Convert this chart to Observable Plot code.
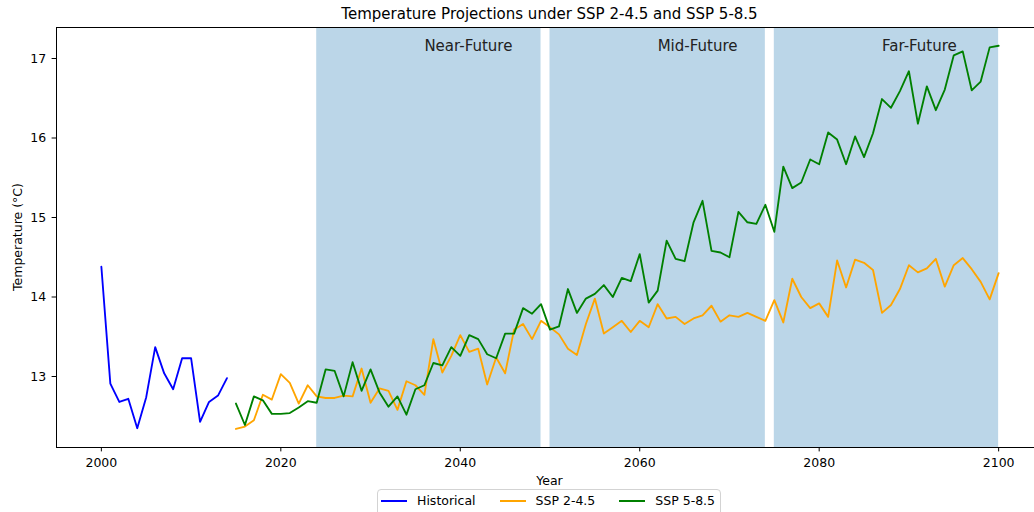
<!DOCTYPE html>
<html>
<head>
<meta charset="utf-8">
<script src="https://cdn.jsdelivr.net/npm/d3@7"></script>
<script src="https://cdn.jsdelivr.net/npm/@observablehq/plot@0.6"></script>
<style>
  body { margin: 0; background: #fff; font-family: "DejaVu Sans", sans-serif; }
  #wrap { position: relative; width: 1034px; height: 512px; overflow: hidden; background: #fff; }
  #wrap svg { position: absolute; left: 0; top: 0; }
  .ov { position: absolute; color: #000; white-space: nowrap; }
  #title { left: 0; width: 1099px; top: 6px; text-align: center; font-size: 15px; line-height: 16px; }
  #xlabel { left: 0; width: 1099px; top: 473px; text-align: center; font-size: 12.5px; line-height: 16px; }
  #ylabel { left: 18px; top: 237px; font-size: 12.5px; line-height: 16px; transform: translate(-50%, -50%) rotate(-90deg); }
  #legend { left: 377px; top: 489px; border: 1px solid #d3d3d3; border-radius: 4px; padding: 3px 5px 8px 3px; display: flex; align-items: center; font-size: 12.5px; line-height: 16px; background: rgba(255,255,255,0.8); }
  .item { display: flex; align-items: center; margin-right: 24px; }
  .item:last-child { margin-right: 0; }
  .sw { width: 26px; height: 2px; margin-right: 10px; }
</style>
</head>
<body>
<div id="wrap"></div>
<script>
// ---- data ----
const histYears = d3.range(2000, 2015);
const histValues = [14.38, 12.91, 12.68, 12.72, 12.35, 12.74, 13.37, 13.04, 12.84, 13.23, 13.23, 12.43, 12.68, 12.76, 12.98];

const sspYears = d3.range(2015, 2101);
const ssp245Values = [
  12.34, 12.37, 12.45, 12.77, 12.71, 13.03, 12.92, 12.66, 12.89, 12.75, // 2015-2024
  12.73, 12.73, 12.76, 12.75, 13.10, 12.67, 12.85, 12.82, 12.58, 12.94, // 2025-2034
  12.89, 12.77, 13.47, 13.05, 13.26, 13.52, 13.31, 13.35, 12.90, 13.24, // 2035-2044
  13.04, 13.59, 13.66, 13.47, 13.70, 13.62, 13.53, 13.35, 13.27, 13.66, // 2045-2054
  13.98, 13.54, 13.62, 13.70, 13.56, 13.70, 13.62, 13.91, 13.73, 13.75, // 2055-2064
  13.66, 13.73, 13.77, 13.89, 13.69, 13.77, 13.75, 13.80, 13.75, 13.70, // 2065-2074
  13.96, 13.68, 14.23, 14.00, 13.86, 13.92, 13.75, 14.46, 14.12, 14.47, // 2075-2084
  14.43, 14.34, 13.80, 13.90, 14.10, 14.40, 14.31, 14.36, 14.48, 14.13, // 2085-2094
  14.40, 14.49, 14.35, 14.19, 13.97, 14.30                              // 2095-2100
];
const ssp585Values = [
  12.66, 12.39, 12.75, 12.70, 12.53, 12.53, 12.54, 12.61, 12.69, 12.67, // 2015-2024
  13.09, 13.07, 12.75, 13.18, 12.82, 13.09, 12.80, 12.62, 12.75, 12.52, // 2025-2034
  12.84, 12.89, 13.17, 13.14, 13.37, 13.26, 13.52, 13.47, 13.28, 13.23, // 2035-2044
  13.54, 13.54, 13.86, 13.79, 13.91, 13.59, 13.63, 14.10, 13.80, 13.98, // 2045-2054
  14.04, 14.15, 14.00, 14.24, 14.20, 14.54, 13.93, 14.08, 14.71, 14.48, // 2055-2064
  14.45, 14.94, 15.21, 14.58, 14.56, 14.50, 15.07, 14.94, 14.92, 15.16, // 2065-2074
  14.82, 15.64, 15.37, 15.44, 15.73, 15.67, 16.07, 15.98, 15.67, 16.02, // 2075-2084
  15.76, 16.06, 16.49, 16.38, 16.59, 16.84, 16.18, 16.65, 16.35, 16.61, // 2085-2094
  17.04, 17.09, 16.60, 16.71, 17.14, 17.16                              // 2095-2100
];

const periodNames = ["Near-Future", "Mid-Future", "Far-Future"];
const periodStarts = [2024, 2050, 2075];
const periodEnds = [2049, 2074, 2100];
const periodLabelY = 17.15;

const seriesNames = ["Historical", "SSP 2-4.5", "SSP 5-8.5"];
const seriesColors = ["blue", "orange", "green"];

const xTicks = [2000, 2020, 2040, 2060, 2080, 2100];
const yTicks = [13, 14, 15, 16, 17];
const xDomain = [1995, 2105];
const yDomain = [12.107, 17.39];

const titleText = "Temperature Projections under SSP 2-4.5 and SSP 5-8.5";
const xLabelText = "Year";
const yLabelText = "Temperature (°C)";

// ---- tables ----
const hist = histYears.map((year, i) => ({year, value: histValues[i]}));
const s245 = sspYears.map((year, i) => ({year, value: ssp245Values[i]}));
const s585 = sspYears.map((year, i) => ({year, value: ssp585Values[i]}));
const periods = periodNames.map((name, i) => ({name, start: periodStarts[i], end: periodEnds[i]}));

const chart = Plot.plot({
  width: 1034,
  height: 512,
  marginTop: 27,
  marginBottom: 65,
  marginLeft: 56,
  marginRight: 0,
  x: {domain: xDomain, range: [56, 1043]},
  y: {domain: yDomain},
  style: {fontFamily: "DejaVu Sans", fontSize: "12.5px", color: "#000", background: "#fff", overflow: "hidden"},
  marks: [
    Plot.rect(periods, {x1: "start", x2: "end", fill: "#1f77b4", fillOpacity: 0.3}),
    Plot.line(hist, {x: "year", y: "value", stroke: seriesColors[0], strokeWidth: 1.85}),
    Plot.line(s245, {x: "year", y: "value", stroke: seriesColors[1], strokeWidth: 1.85}),
    Plot.line(s585, {x: "year", y: "value", stroke: seriesColors[2], strokeWidth: 1.85}),
    Plot.text(periods, {x: d => Math.floor((d.start + d.end) / 2), y: () => periodLabelY, text: "name", textAnchor: "start", fontSize: 15, fill: "#222"}),
    Plot.ruleY([yDomain[0]], {stroke: "#000", strokeWidth: 1}),
    Plot.ruleY([yDomain[1]], {stroke: "#000", strokeWidth: 1}),
    Plot.ruleX([xDomain[0]], {stroke: "#000", strokeWidth: 1}),
    Plot.axisX({ticks: xTicks, tickSize: 4.4, tickPadding: 6.5, tickFormat: d => String(d), label: null, fontSize: 12.5}),
    Plot.axisY({ticks: yTicks, tickSize: 4.4, tickPadding: 6, tickFormat: d => String(d), label: null, fontSize: 12.5})
  ]
});

const wrap = document.getElementById("wrap");
wrap.appendChild(chart);

function addDiv(id, text) {
  const d = document.createElement("div");
  d.className = "ov";
  d.id = id;
  d.textContent = text;
  wrap.appendChild(d);
  return d;
}
addDiv("title", titleText);
addDiv("xlabel", xLabelText);
addDiv("ylabel", yLabelText);

const legend = document.createElement("div");
legend.className = "ov";
legend.id = "legend";
seriesNames.forEach((name, i) => {
  const item = document.createElement("div");
  item.className = "item";
  const sw = document.createElement("div");
  sw.className = "sw";
  sw.style.background = seriesColors[i];
  const t = document.createElement("span");
  t.textContent = name;
  item.appendChild(sw);
  item.appendChild(t);
  legend.appendChild(item);
});
wrap.appendChild(legend);
</script>
</body>
</html>
